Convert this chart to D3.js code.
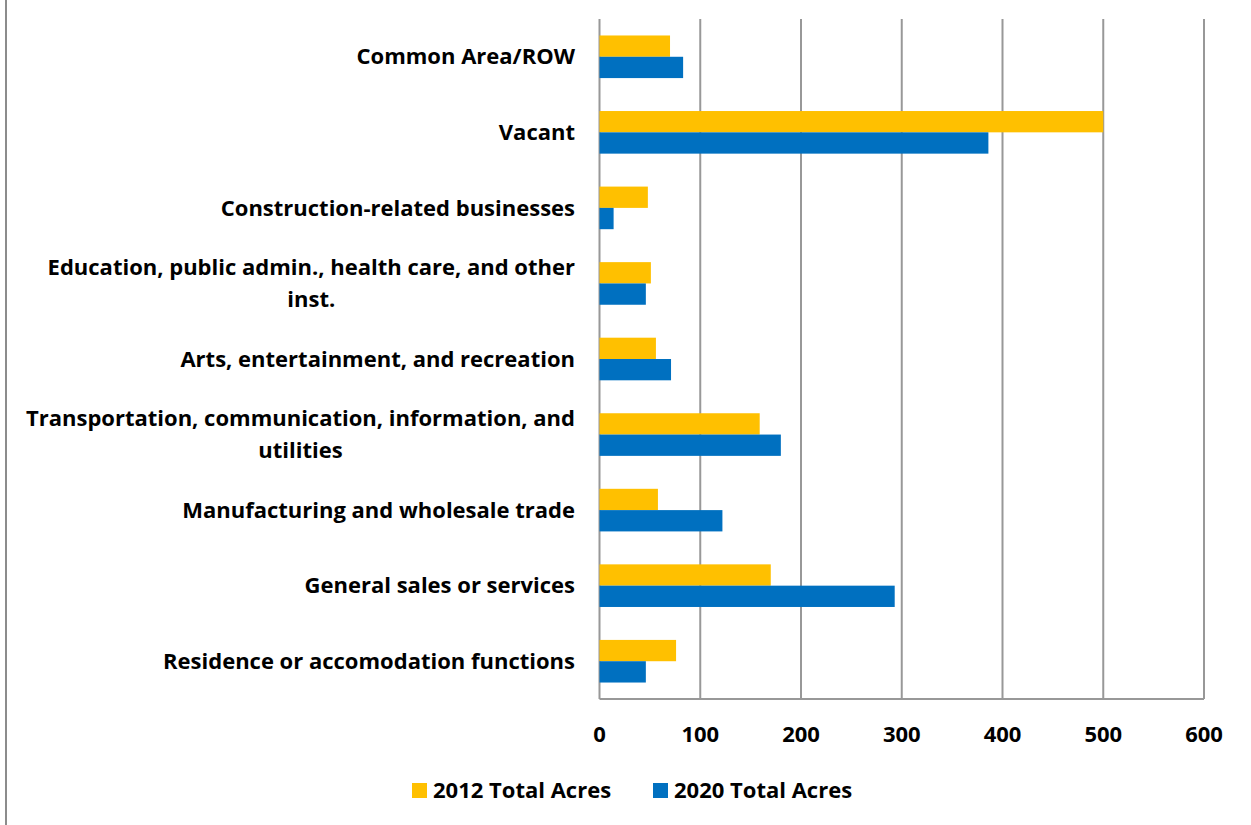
<!DOCTYPE html>
<html>
<head>
<meta charset="utf-8">
<script src="https://cdn.jsdelivr.net/npm/d3@7"></script>
<style>
  body { margin: 0; background: #fff; }
  text { font-family: "Open Sans", Lato, sans-serif; font-weight: bold; fill: #000; }
</style>
</head>
<body>
<div id="chart"></div>
<script>
// categories top to bottom, "\n" marks the label wrap
var categories = [
	"Common Area/ROW",
	"Vacant",
	"Construction-related businesses",
	"Education, public admin., health care, and other\ninst.",
	"Arts, entertainment, and recreation",
	"Transportation, communication, information, and\nutilities",
	"Manufacturing and wholesale trade",
	"General sales or services",
	"Residence or accomodation functions"
];
var series = ["2012 Total Acres", "2020 Total Acres"];
var acres2012 = [70, 500, 48, 51, 56, 159, 58, 170, 76];
var acres2020 = [83, 386, 14, 46, 71, 180, 122, 293, 46];
var xTicks = [0, 100, 200, 300, 400, 500, 600];
var colors = ["#FFC000", "#0070C0"];

var W = 1251, H = 825;
var plot = {left: 599.5, right: 1204, top: 19, bottom: 699};
var fontSize = 22;

var svg = d3.select("#chart").append("svg")
	.attr("width", W)
	.attr("height", H);

// outer chart border (only left edge visible)
svg.append("line")
	.attr("x1", 6).attr("x2", 6)
	.attr("y1", 0).attr("y2", H)
	.attr("stroke", "#8c8c8c")
	.attr("stroke-width", 2);

var x = d3.scaleLinear()
	.domain([0, 600])
	.range([plot.left, plot.right]);

var y = d3.scaleBand()
	.domain(categories)
	.range([plot.top, plot.bottom])
	.paddingInner(0.436)
	.paddingOuter(0.218);

var ySub = d3.scaleBand()
	.domain(series)
	.range([0, y.bandwidth()]);

// gridlines
svg.append("g")
	.selectAll("line")
	.data(xTicks)
	.enter().append("line")
	  .attr("x1", d => x(d)).attr("x2", d => x(d))
	  .attr("y1", plot.top).attr("y2", plot.bottom)
	  .attr("stroke", "#989898")
	  .attr("stroke-width", 2);

// bottom axis line
svg.append("line")
	.attr("x1", plot.left).attr("x2", plot.right)
	.attr("y1", plot.bottom).attr("y2", plot.bottom)
	.attr("stroke", "#989898")
	.attr("stroke-width", 2);

// bars
var rows = categories.map(function(c, i) {
	return {cat: c, values: [acres2012[i], acres2020[i]]};
});

var groups = svg.append("g")
	.selectAll("g")
	.data(rows)
	.enter().append("g")
	  .attr("transform", d => "translate(0," + y(d.cat) + ")");

groups.selectAll("rect")
	.data(d => d.values.map((v, j) => ({s: series[j], v: v, j: j})))
	.enter().append("rect")
	  .attr("x", x(0))
	  .attr("y", d => ySub(d.s))
	  .attr("width", d => x(d.v) - x(0))
	  .attr("height", ySub.bandwidth())
	  .attr("fill", d => colors[d.j]);

// category labels, wrapped lines centred on the widest line
var labelRight = 575;
var lineH = 32;
groups.each(function(d) {
	var lines = d.cat.split("\n");
	var g = d3.select(this);
	var texts = lines.map(function(l, k) {
		return g.append("text")
			.attr("y", y.bandwidth() / 2 + (k - (lines.length - 1) / 2) * lineH)
			.attr("dy", "0.35em")
			.style("font-size", fontSize + "px")
			.text(l);
	});
	var maxW = d3.max(texts, t => t.node().getComputedTextLength());
	texts.forEach(function(t) {
		t.attr("x", labelRight - maxW / 2).attr("text-anchor", "middle");
	});
});

// x tick labels
svg.append("g")
	.selectAll("text")
	.data(xTicks)
	.enter().append("text")
	  .attr("x", d => x(d))
	  .attr("y", 734)
	  .attr("dy", "0.35em")
	  .attr("text-anchor", "middle")
	  .style("font-size", fontSize + "px")
	  .text(d => d);

// legend
var legendX = [412, 653];
var legend = svg.append("g")
	.selectAll("g")
	.data(series)
	.enter().append("g")
	  .attr("transform", (d, i) => "translate(" + legendX[i] + ",783)");

legend.append("rect")
	.attr("width", 15)
	.attr("height", 15)
	.attr("fill", (d, i) => colors[i]);

legend.append("text")
	.attr("x", 21)
	.attr("y", 7.5)
	.attr("dy", "0.35em")
	.style("font-size", fontSize + "px")
	.text(d => d);
</script>
</body>
</html>
